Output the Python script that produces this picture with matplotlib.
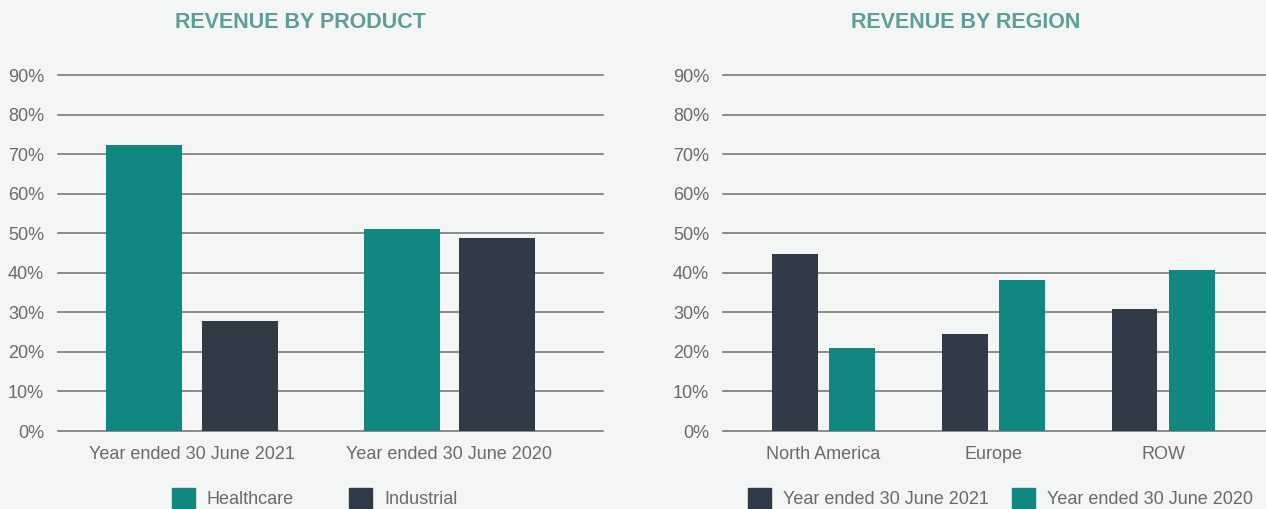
import matplotlib
matplotlib.use("Agg")
import matplotlib.pyplot as plt
import numpy as np
from matplotlib.patches import Rectangle

# ---- data ----
product_categories = ["Year ended 30 June 2021", "Year ended 30 June 2020"]
product_series = ["Healthcare", "Industrial"]
healthcare = [72.3, 51.1]
industrial = [27.8, 48.8]

region_categories = ["North America", "Europe", "ROW"]
region_series = ["Year ended 30 June 2021", "Year ended 30 June 2020"]
region_2021 = [44.7, 24.5, 30.8]
region_2020 = [21.0, 38.2, 40.7]

yticks = [0, 10, 20, 30, 40, 50, 60, 70, 80, 90]
ytick_labels = [f"{v}%" for v in yticks]

# ---- style ----
BG = "#F4F6F5"
TEAL = "#12877F"
DARK = "#2F3B47"
TITLE_C = "#5E9E9A"
TEXT_C = "#6A6A6A"
GRID_C = "#6E6E6E"
W, H = 1266, 509

plt.rcParams['font.family'] = ['Liberation Sans', 'DejaVu Sans']

fig = plt.figure(figsize=(W / 100, H / 100), dpi=100, facecolor=BG)

def px_axes(x0, x1, ytop, ybot):
    return fig.add_axes([x0 / W, 1 - ybot / H, (x1 - x0) / W, (ybot - ytop) / H])

def style(ax):
    ax.set_facecolor(BG)
    for s in ax.spines.values():
        s.set_visible(False)
    ax.set_ylim(0, 90)
    ax.set_yticks(yticks)
    ax.set_yticklabels(ytick_labels)
    ax.tick_params(axis='y', length=0, pad=10, labelsize=13, labelcolor=TEXT_C)
    ax.tick_params(axis='x', length=0, pad=11, labelsize=13, labelcolor=TEXT_C)
    ax.set_axisbelow(True)
    for v in yticks:
        ax.axhline(v, color=GRID_C, lw=1.1, zorder=0, clip_on=False)

# Left chart
ax1 = px_axes(58, 603, 75, 431)
style(ax1)
x1 = np.arange(len(product_categories))
bw1, off1 = 0.295, 0.186
ax1.bar(x1 - off1, healthcare, bw1, color=TEAL, zorder=2)
ax1.bar(x1 + off1, industrial, bw1, color=DARK, zorder=2)
ax1.set_xlim(-0.52, 1.596)
ax1.set_xticks(x1)
ax1.set_xticklabels(product_categories)

# Right chart
ax2 = px_axes(723, 1266, 75, 431)
style(ax2)
x2 = np.arange(len(region_categories))
bw2, off2 = 0.27, 0.168
ax2.bar(x2 - off2, region_2021, bw2, color=DARK, zorder=2)
ax2.bar(x2 + off2, region_2020, bw2, color=TEAL, zorder=2)
ax2.set_xlim(-0.591, 2.606)
ax2.set_xticks(x2)
ax2.set_xticklabels(region_categories)

# Titles
fig.text(300 / W, 1 - 23 / H, "REVENUE BY PRODUCT", ha='center', va='center',
         fontsize=15.5, fontweight='bold', color=TITLE_C)
fig.text(966 / W, 1 - 23 / H, "REVENUE BY REGION", ha='center', va='center',
         fontsize=15.5, fontweight='bold', color=TITLE_C)

# Legends (manual)
def legend_item(xsq, xtext, color, label):
    fig.patches.append(Rectangle((xsq / W, 1 - 510 / H), 23 / W, 22 / H,
                                 transform=fig.transFigure, color=color, figure=fig))
    fig.text(xtext / W, 1 - 499 / H, label, ha='left', va='center',
             fontsize=13, color=TEXT_C)

legend_item(172, 207, TEAL, product_series[0])
legend_item(349, 384, DARK, product_series[1])
legend_item(748, 783, DARK, region_series[0])
legend_item(1012, 1047, TEAL, region_series[1])

fig.savefig("out.png", dpi=100, facecolor=BG)
